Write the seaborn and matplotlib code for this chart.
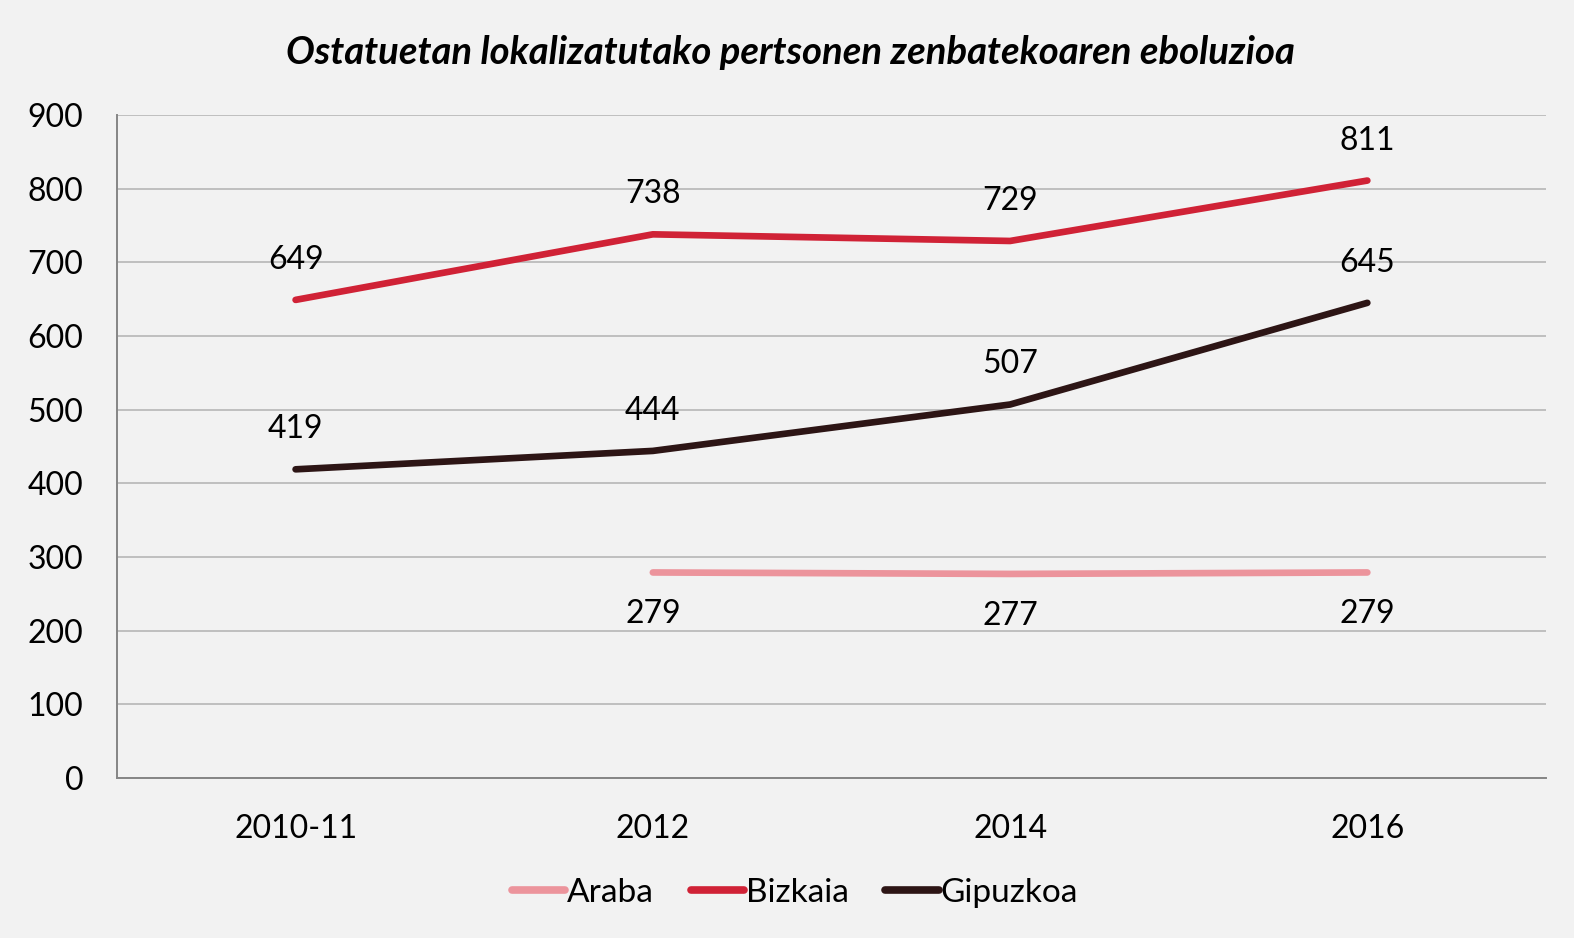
import numpy as np
import pandas as pd
import matplotlib
matplotlib.use('Agg')
import matplotlib.pyplot as plt
import seaborn as sns

# Data
periods = ['2010-11', '2012', '2014', '2016']
araba = [np.nan, 279, 277, 279]
bizkaia = [649, 738, 729, 811]
gipuzkoa = [419, 444, 507, 645]

series_names = ['Araba', 'Bizkaia', 'Gipuzkoa']
colors = {'Araba': '#ec949c', 'Bizkaia': '#d02236', 'Gipuzkoa': '#2d1515'}
label_offset = {'Araba': -42, 'Bizkaia': 40, 'Gipuzkoa': 40}

rows = []
for name, vals in zip(series_names, [araba, bizkaia, gipuzkoa]):
    for i, (p, v) in enumerate(zip(periods, vals)):
        rows.append({'pos': i, 'Periodoa': p, 'Herrialdea': name, 'Kopurua': v})
df = pd.DataFrame(rows)

sns.set_theme(style='white')
plt.rcParams['font.family'] = ['Lato', 'DejaVu Sans']
plt.rcParams['text.color'] = 'black'
plt.rcParams['xtick.labelcolor'] = 'black'
plt.rcParams['ytick.labelcolor'] = 'black'
bg = '#f2f2f2'
fs = 23

fig = plt.figure(figsize=(15.74, 9.38), dpi=100, facecolor=bg)
ax = fig.add_axes([0.0743, 0.1706, 0.9079, 0.7068])
ax.set_facecolor(bg)

sns.lineplot(data=df.dropna(), x='pos', y='Kopurua', hue='Herrialdea',
             hue_order=series_names, palette=colors, linewidth=4.8,
             solid_capstyle='round', ax=ax, legend=True)

# data labels
for name in series_names:
    sub = df[(df['Herrialdea'] == name)].dropna()
    for _, r in sub.iterrows():
        ax.annotate(f"{int(r['Kopurua'])}", (r['pos'], r['Kopurua']),
                    xytext=(0, label_offset[name] * 0.72), textcoords='offset points',
                    ha='center', va='center', fontsize=fs, color='black')

ax.set_xlim(-0.5, len(periods) - 0.5)
ax.set_ylim(0, 900)
ax.set_yticks(range(0, 901, 100))
ax.yaxis.grid(True, color='#bfbfbf', linewidth=1.4)
ax.set_axisbelow(True)

ax.set_xticks(np.arange(-0.5, len(periods), 1.0))
ax.set_xticklabels([])
ax.set_xticks(range(len(periods)), minor=True)
ax.set_xticklabels(periods, minor=True)
ax.tick_params(axis='x', which='major', length=8, width=1.2, color='#868686', direction='out')
ax.tick_params(axis='x', which='minor', length=0, pad=26, labelsize=fs, labelcolor='black')
ax.tick_params(axis='y', length=10, width=1.2, color='#868686', direction='out',
               labelsize=fs, pad=14, labelcolor='black')
for s in ['top', 'right']:
    ax.spines[s].set_visible(False)
for s in ['left', 'bottom']:
    ax.spines[s].set_color('#868686')
    ax.spines[s].set_linewidth(1.4)
ax.set_xlabel('')
ax.set_ylabel('')

leg = ax.legend(loc='center', bbox_to_anchor=(0.505, 0.048), bbox_transform=fig.transFigure,
                ncol=3, frameon=False, fontsize=fs + 1, handlelength=1.6, handletextpad=0.05,
                columnspacing=1.1)
for h in leg.get_lines():
    h.set_linewidth(5.5)
    h.set_solid_capstyle('round')

fig.text(0.502, 0.944, 'Ostatuetan lokalizatutako pertsonen zenbatekoaren eboluzioa',
         ha='center', va='center', fontsize=27.5, fontweight='bold', fontstyle='italic',
         color='black')

fig.savefig('out.png', dpi=100, facecolor=bg)
